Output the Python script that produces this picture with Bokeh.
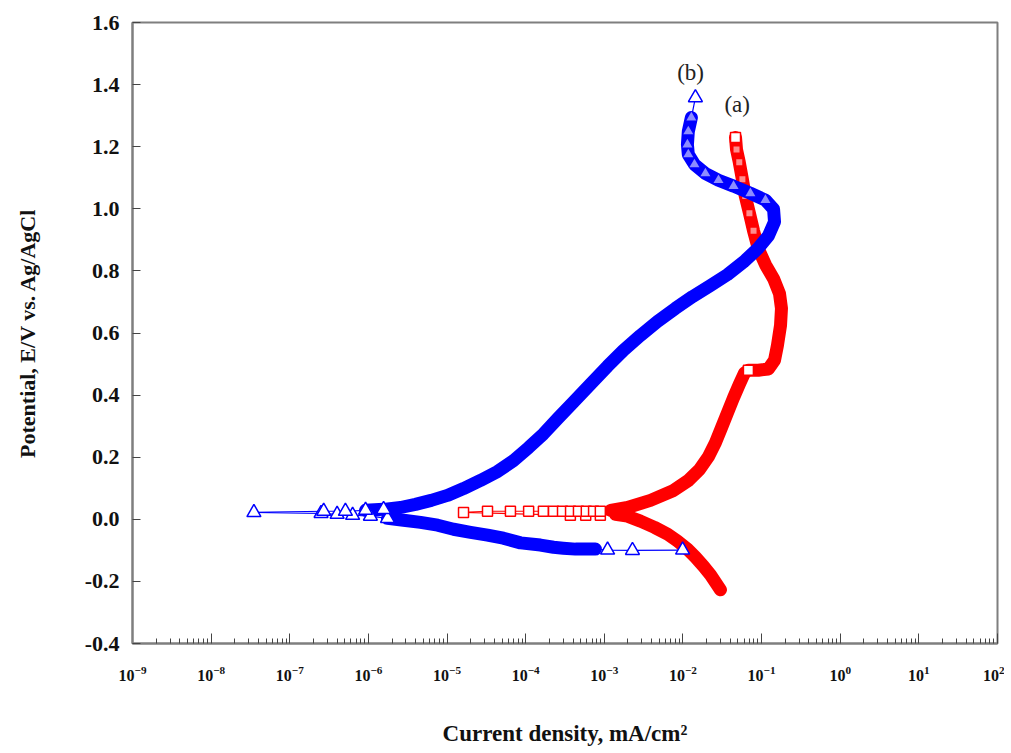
from bokeh.plotting import figure
from bokeh.models import FixedTicker, PrintfTickFormatter, Range1d, ColumnDataSource, Label
from bokeh.embed import file_html
from bokeh.resources import INLINE

# ---- data (current density in mA/cm2, potential in V vs Ag/AgCl)
# (a) red squares
a_current = [3.0e-2, 2.67e-2, 2.24e-2, 1.82e-2, 1.44e-2, 1.14e-2, 8.5e-3, 6.4e-3, 4.35e-3, 2.88e-3,
             1.97e-3, 1.39e-3, 8.9e-4, 5.8e-4, 3.7e-4, 1.62e-5, 3.27e-5, 6.4e-5, 1.09e-4, 1.68e-4,
             2.26e-4, 2.94e-4, 3.72e-4, 4.69e-4, 5.9e-4, 7.3e-4, 8.9e-4, 1.20e-3, 1.97e-3, 3.86e-3,
             7.6e-3, 1.17e-2, 1.62e-2, 2.11e-2, 2.59e-2, 3.09e-2, 3.68e-2, 4.39e-2, 5.24e-2, 6.05e-2,
             6.8e-2, 9.1e-2, 0.122, 0.146, 0.159, 0.174, 0.179, 0.169, 0.142, 0.112,
             9.1e-2, 7.9e-2, 7.0e-2, 6.2e-2, 5.7e-2, 5.2e-2, 4.8e-2, 4.66e-2]
a_potential = [-0.227, -0.208, -0.179, -0.151, -0.122, -0.096, -0.070, -0.048, -0.026, -0.006,
               0.010, 0.016, 0.013, 0.013, 0.013, 0.022, 0.026, 0.026, 0.026, 0.026,
               0.026, 0.026, 0.026, 0.026, 0.026, 0.026, 0.026, 0.029, 0.038, 0.061,
               0.093, 0.125, 0.160, 0.202, 0.247, 0.295, 0.343, 0.391, 0.436, 0.471,
               0.480, 0.480, 0.484, 0.512, 0.560, 0.624, 0.679, 0.727, 0.775, 0.820,
               0.871, 0.929, 0.986, 1.041, 1.095, 1.150, 1.191, 1.230]

# (b) blue triangles
b_current = [9.9e-3, 2.28e-3, 1.10e-3, 7.7e-4, 6.1e-4, 4.3e-4, 3.0e-4, 2.26e-4, 1.54e-4, 8.6e-5,
             5.2e-5, 3.27e-5, 1.99e-5, 1.21e-5, 7.6e-6, 4.6e-6, 2.8e-6, 1.75e-6, 1.06e-6, 6.3e-7,
             4.0e-7, 2.5e-7, 3.5e-8, 2.7e-7, 5.1e-7, 9.2e-7, 1.56e-6, 2.56e-6, 3.97e-6, 6.3e-6,
             1.01e-5, 1.62e-5, 2.66e-5, 4.4e-5, 7.0e-5, 1.09e-4, 1.68e-4, 2.61e-4, 4.06e-4, 6.7e-4,
             1.10e-3, 1.75e-3, 2.88e-3, 4.74e-3, 8.0e-3, 1.32e-2, 2.24e-2, 3.68e-2, 5.9e-2, 8.9e-2,
             0.122, 0.146, 0.142, 0.112, 7.2e-2, 4.4e-2, 2.83e-2, 1.93e-2, 1.40e-2, 1.17e-2,
             1.14e-2, 1.17e-2, 1.28e-2, 1.44e-2]
b_potential = [-0.099, -0.100, -0.099, -0.096, -0.096, -0.096, -0.093, -0.090, -0.083, -0.076,
               -0.061, -0.051, -0.042, -0.032, -0.019, -0.010, -0.003, 0.003, 0.010, 0.013,
               0.016, 0.019, 0.022, 0.026, 0.026, 0.029, 0.032, 0.038, 0.048, 0.061,
               0.077, 0.099, 0.125, 0.154, 0.189, 0.231, 0.275, 0.327, 0.378, 0.436,
               0.493, 0.544, 0.592, 0.637, 0.679, 0.717, 0.753, 0.788, 0.829, 0.871,
               0.913, 0.958, 0.999, 1.028, 1.050, 1.073, 1.092, 1.114, 1.143, 1.175,
               1.207, 1.249, 1.294, 1.358]

y_ticks = [-0.4, -0.2, 0.0, 0.2, 0.4, 0.6, 0.8, 1.0, 1.2, 1.4, 1.6]
x_decades = list(range(-9, 3))

RED = "#ff0000"
BLUE = "#0000ff"
GRAY = "#7f7f7f"
SERIF = "Liberation Serif"

p = figure(width=1004, height=748, x_axis_type="log",
           x_range=Range1d(10.0 ** x_decades[0], 10.0 ** x_decades[-1]),
           y_range=Range1d(y_ticks[0], y_ticks[-1]),
           output_backend="svg", toolbar_location=None,
           min_border_left=132, min_border_right=7, min_border_top=22, min_border_bottom=101)
p.grid.visible = False
p.outline_line_color = GRAY
p.outline_line_width = 2
p.background_fill_color = "white"

# x axis
xa = p.xaxis[0]
minor = [m * 10.0 ** d for d in x_decades[:-1] for m in range(2, 10)]
xa.ticker = FixedTicker(ticks=[10.0 ** d for d in x_decades], minor_ticks=minor)
xa.axis_line_color = GRAY
xa.axis_line_width = 2
xa.major_tick_line_color = "#444444"
xa.minor_tick_line_color = "#444444"
xa.major_tick_in = 10
xa.major_tick_out = 0
xa.minor_tick_in = 5
xa.minor_tick_out = 0
xa.major_label_text_font = SERIF
xa.major_label_text_font_style = "bold"
xa.major_label_text_font_size = "16px"
xa.major_label_text_color = "#111111"
xa.major_label_standoff = 22
xa.axis_label = "Current density, mA/cm\u00b2"
xa.axis_label_text_font = SERIF
xa.axis_label_text_font_style = "bold"
xa.axis_label_text_font_size = "23px"
xa.axis_label_text_color = "#111111"
xa.axis_label_standoff = 37

# y axis
ya = p.yaxis[0]
ya.ticker = FixedTicker(ticks=y_ticks, minor_ticks=[])
ya.formatter = PrintfTickFormatter(format="%.1f")
ya.axis_line_color = GRAY
ya.axis_line_width = 2
ya.major_tick_line_color = "#444444"
ya.major_tick_in = 8
ya.major_tick_out = 0
ya.minor_tick_in = 0
ya.minor_tick_out = 0
ya.major_label_text_font = SERIF
ya.major_label_text_font_style = "bold"
ya.major_label_text_font_size = "22px"
ya.major_label_text_color = "#111111"
ya.major_label_standoff = 13
ya.axis_label = "Potential, E/V vs. Ag/AgCl"
ya.axis_label_text_font = SERIF
ya.axis_label_text_font_style = "bold"
ya.axis_label_text_font_size = "22px"
ya.axis_label_text_color = "#111111"
ya.axis_label_standoff = 42


def draw(cur, pot, color, marker, size, band_slices, marker_idx, light_idx):
    src = ColumnDataSource(dict(x=cur, y=pot))
    # thin connecting line
    p.line("x", "y", source=src, line_color=color, line_width=1.2)
    # dense parts: overlapping markers form a solid band
    for s, e in band_slices:
        bs = ColumnDataSource(dict(x=cur[s:e], y=pot[s:e]))
        p.line("x", "y", source=bs, line_color=color, line_width=13,
               line_join="round", line_cap="round")
    ms = ColumnDataSource(dict(x=[cur[i] for i in marker_idx], y=[pot[i] for i in marker_idx]))
    p.scatter("x", "y", source=ms, marker=marker, size=size, line_color=color,
              line_width=1.5, fill_color="white")
    ls = ColumnDataSource(dict(x=[cur[i] for i in light_idx], y=[pot[i] for i in light_idx]))
    p.scatter("x", "y", source=ls, marker=marker, size=size - 4, line_color=color,
              line_width=1, fill_color="white", fill_alpha=0.55, line_alpha=0.0)


draw(a_current, a_potential, RED, "square", 10,
     [(0, 12), (27, 58)],
     [12, 13, 14, 15, 16, 17, 18, 19, 20, 21, 22, 23, 24, 25, 26, 40, 57],
     [51, 52, 53, 54, 55, 56])
draw(b_current, b_potential, BLUE, "triangle", 14,
     [(3, 18), (25, 63)],
     [0, 1, 2, 17, 18, 19, 20, 21, 22, 23, 24, 25, 26, 63],
     [53, 54, 55, 56, 57, 58, 59, 60, 61, 62])

p.add_layout(Label(x=1.25e-2, y=1.44, text="(b)", text_align="center", text_baseline="middle",
                   text_font=SERIF, text_font_size="23px", text_color="#222222"))
p.add_layout(Label(x=4.9e-2, y=1.335, text="(a)", text_align="center", text_baseline="middle",
                   text_font=SERIF, text_font_size="23px", text_color="#222222"))

open("out.html", "w").write(file_html(p, INLINE))
